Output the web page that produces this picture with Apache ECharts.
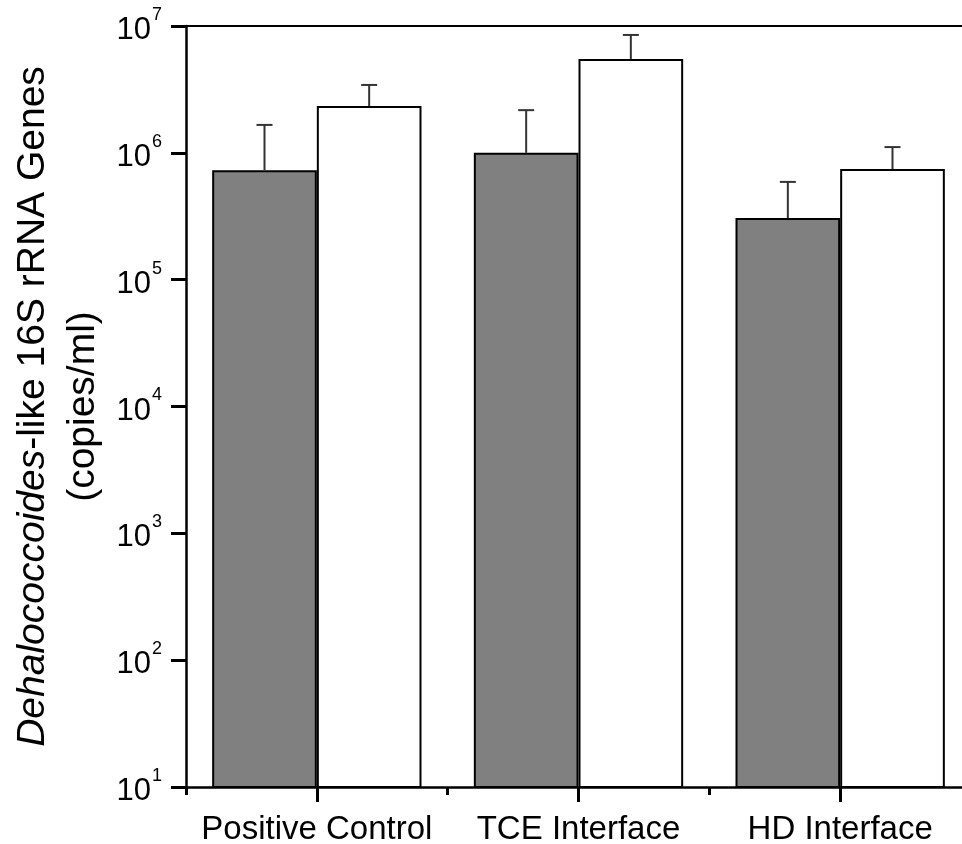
<!DOCTYPE html>
<html>
<head>
<meta charset="utf-8">
<script src="https://cdn.jsdelivr.net/npm/echarts@6/dist/echarts.min.js"></script>
<style>html,body{margin:0;padding:0;background:#fff;}#c{width:962px;height:844px;}</style>
</head>
<body>
<div id="c"></div>
<script>
var categories = ['Positive Control', 'TCE Interface', 'HD Interface'];
var grayValues = [7.3e5, 1.0e6, 3.06e5];
var grayErrTop = [1.66e6, 2.17e6, 5.9e5];
var whiteValues = [2.34e6, 5.5e6, 7.45e5];
var whiteErrTop = [3.43e6, 8.5e6, 1.11e6];
var yMin = 10, yMax = 1e7;

var FONT = 'Liberation Sans, Arial, sans-serif';
var chart = echarts.init(document.getElementById('c'));

function errData(vals, tops) {
  return vals.map(function (v, i) { return [i, v, tops[i]]; });
}
function errRender(sign) {
  return function (params, api) {
    var i = api.value(0);
    var band = api.size([1, 0])[0];
    var off = sign * band * 0.2;
    var p0 = api.coord([i, api.value(1)]);
    var p1 = api.coord([i, api.value(2)]);
    var x = p0[0] + off;
    var cap = 8;
    var st = { stroke: '#333', lineWidth: 2 };
    return {
      type: 'group',
      children: [
        { type: 'line', shape: { x1: x, y1: p0[1], x2: x, y2: p1[1] }, style: st },
        { type: 'line', shape: { x1: x - cap, y1: p1[1], x2: x + cap, y2: p1[1] }, style: st }
      ]
    };
  };
}

chart.setOption({
  animation: false,
  backgroundColor: '#fff',
  grid: { left: 186, width: 785, top: 26, height: 761, containLabel: false, outerBoundsMode: 'none' },
  xAxis: [
    {
      type: 'category', data: categories, position: 'bottom',
      axisLine: { show: true, lineStyle: { color: '#000', width: 2.5 } },
      axisTick: { show: true, inside: false, alignWithLabel: true, length: 15, lineStyle: { color: '#000', width: 3 } },
      axisLabel: { show: true, interval: 0, hideOverlap: false, color: '#000', fontSize: 33, fontFamily: FONT, margin: 26 }
    },
    {
      type: 'category', data: categories, position: 'bottom',
      axisLine: { show: false },
      axisTick: { show: true, inside: false, length: 8, interval: 0, lineStyle: { color: '#000', width: 3 } },
      axisLabel: { show: false }
    },
    {
      type: 'category', data: categories, position: 'top',
      axisLine: { show: true, lineStyle: { color: '#000', width: 2 } },
      axisTick: { show: false },
      axisLabel: { show: false }
    }
  ],
  yAxis: {
    type: 'log', logBase: 10, min: yMin, max: yMax,
    axisLine: { show: true, lineStyle: { color: '#000', width: 2.5 } },
    axisTick: { show: true, inside: false, length: 15, lineStyle: { color: '#000', width: 3 } },
    splitLine: { show: false },
    axisLabel: {
      margin: 24,
      formatter: function (v) {
        var e = Math.round(Math.log10(v));
        return '{b|10}{s|' + e + '}';
      },
      rich: {
        b: { fontSize: 31, fontFamily: FONT, color: '#000', lineHeight: 40, verticalAlign: 'bottom' },
        s: { fontSize: 18, fontFamily: FONT, color: '#000', lineHeight: 40, verticalAlign: 'top', padding: [0, 0, 14, 1] }
      }
    },
    name: '{i|Dehalococcoides}{n|-like 16S rRNA Genes}\n{n|(copies/ml)}',
    nameLocation: 'middle',
    nameRotate: 90,
    nameGap: 78,
    nameTextStyle: {
      align: 'center',
      rich: {
        i: { fontSize: 39, fontStyle: 'italic', fontFamily: FONT, color: '#000', lineHeight: 50 },
        n: { fontSize: 39, fontFamily: FONT, color: '#000', lineHeight: 50 }
      }
    }
  },
  series: [
    {
      name: 'gray', type: 'bar', data: grayValues, barGap: '0%', barCategoryGap: '20%',
      itemStyle: { color: '#808080', borderColor: '#000', borderWidth: 2 }
    },
    {
      name: 'white', type: 'bar', data: whiteValues, barGap: '0%', barCategoryGap: '20%',
      itemStyle: { color: '#fff', borderColor: '#000', borderWidth: 2 }
    },
    {
      type: 'custom', data: errData(grayValues, grayErrTop), renderItem: errRender(-1),
      encode: { x: 0, y: 1 }, z: 5
    },
    {
      type: 'custom', data: errData(whiteValues, whiteErrTop), renderItem: errRender(1),
      encode: { x: 0, y: 1 }, z: 5
    }
  ]
});
</script>
</body>
</html>
